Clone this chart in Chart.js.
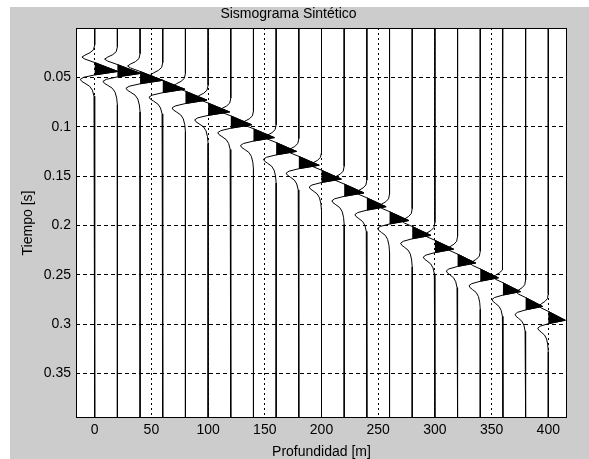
<!DOCTYPE html>
<html>
<head>
<meta charset="utf-8">
<script src="https://cdn.jsdelivr.net/npm/chart.js@4.4.1/dist/chart.umd.min.js"></script>
<style>
  html, body { margin: 0; padding: 0; background: #fff; }
  #wrap { position: absolute; left: 10px; top: 7px; width: 579px; height: 452px; background: #cccccc; }
</style>
</head>
<body>
<div id="wrap"><canvas id="myChart" width="579" height="452"></canvas></div>
<script>
// geophone depths (m), one trace each
const depths = [0, 20, 40, 60, 80, 100, 120, 140, 160, 180, 200, 220, 240, 260, 280, 300, 320, 340, 360, 380, 400];
// time of the main (black) peak on each trace (s)
const peakTimes = [0.044, 0.046, 0.053, 0.062, 0.073, 0.085, 0.098, 0.111, 0.125, 0.139, 0.153,
                   0.167, 0.181, 0.195, 0.210, 0.224, 0.238, 0.253, 0.267, 0.282, 0.296];
// peak deflection of each trace (m along the depth axis)
const peakAmps = [20.5, 20.5, 20, 19.5, 19, 19, 18.5, 18.5, 18, 18, 17.5,
                  17.5, 17, 17, 16.5, 16.5, 16, 16, 15.5, 15, 15];
// wavelet shape: time from the peak (ms) and relative amplitude
const waveletMs  = [-27, -22, -19, -16.5, -14.5, -12.5, -9, -4, 0, 3.5, 6, 8, 10, 12, 15, 19, 25, 32];
const waveletAmp = [0, -0.05, -0.2, -0.42, -0.55, -0.42, 0, 0.55, 1, 0, -0.48, -0.62, -0.56, -0.42, -0.22, -0.1, -0.03, 0];
// axis ticks
const xTicks = [0, 50, 100, 150, 200, 250, 300, 350, 400];
const yTicks = [0.05, 0.1, 0.15, 0.2, 0.25, 0.3, 0.35];
const tMax = 0.395;

const font = { family: "'Liberation Sans', Arial, sans-serif", size: 14 };

const datasets = [];
depths.forEach((d, i) => {
    const pts = [{ x: d, y: 0 }];
    waveletMs.forEach((ms, k) => {
        pts.push({ x: d + peakAmps[i] * waveletAmp[k], y: peakTimes[i] + ms / 1000 });
    });
    pts.push({ x: d, y: tMax });
    datasets.push({ data: pts, borderColor: '#000', borderWidth: 1, pointRadius: 0, fill: false });

    // positive lobe between the two zero crossings, filled black
    const lobe = [];
    waveletMs.forEach((ms, k) => {
        if (ms >= -9 && ms <= 3.5) {
            lobe.push({ x: d + peakAmps[i] * waveletAmp[k], y: peakTimes[i] + ms / 1000 });
        }
    });
    datasets.push({ data: lobe, borderColor: '#000', borderWidth: 1, pointRadius: 0,
                    backgroundColor: '#000', fill: { value: d } });
});

const axesBox = {
    id: 'axesBox',
    beforeDraw(chart) {
        const { ctx, chartArea: a } = chart;
        ctx.save();
        ctx.fillStyle = '#fff';
        ctx.fillRect(a.left, a.top, a.right - a.left, a.bottom - a.top);
        ctx.restore();
    },
    afterDraw(chart) {
        const { ctx, chartArea: a } = chart;
        ctx.save();
        ctx.strokeStyle = '#000';
        ctx.lineWidth = 1;
        ctx.strokeRect(a.left + 0.5, a.top + 0.5, a.right - a.left - 1, a.bottom - a.top - 1);
        ctx.restore();
    }
};

const ctx = document.getElementById('myChart').getContext('2d');
const myChart = new Chart(ctx, {
    type: 'line',
    data: { datasets: datasets },
    options: {
        indexAxis: 'y',
        responsive: false,
        animation: false,
        devicePixelRatio: 1,
        events: [],
        layout: { padding: { left: 0, right: 22, top: 0, bottom: 0 } },
        plugins: {
            legend: { display: false },
            tooltip: { enabled: false },
            title: {
                display: true,
                text: 'Sismograma Sintético',
                color: '#000',
                font: { ...font, weight: 'normal', lineHeight: 1 },
                padding: { top: 0, bottom: 7 }
            }
        },
        scales: {
            x: {
                type: 'linear',
                position: 'bottom',
                min: -16.5,
                max: 416.5,
                afterBuildTicks: s => { s.ticks = xTicks.map(v => ({ value: v })); },
                afterFit: s => { s.height = 41; },
                ticks: { color: '#000', font: font, padding: 4, maxRotation: 0, autoSkip: false,
                         callback: v => String(v) },
                grid: { color: '#000', lineWidth: 1, drawTicks: false },
                border: { display: false, dash: [2, 3] },
                title: { display: true, text: 'Profundidad [m]', color: '#000',
                         font: { ...font, lineHeight: 1 }, padding: { top: 0, bottom: 0 } }
            },
            y: {
                type: 'linear',
                reverse: true,
                min: 0,
                max: tMax,
                afterBuildTicks: s => { s.ticks = yTicks.map(v => ({ value: v })); },
                afterFit: s => { s.width = 66; },
                ticks: { color: '#000', font: font, padding: 5, autoSkip: false,
                         callback: v => String(+v.toFixed(2)) },
                grid: { color: '#000', lineWidth: 1, drawTicks: false },
                border: { display: false, dash: [4, 3] },
                title: { display: true, text: 'Tiempo [s]', color: '#000',
                         font: font, padding: { top: 10, bottom: 0 } }
            }
        }
    },
    plugins: [axesBox]
});
</script>
</body>
</html>
